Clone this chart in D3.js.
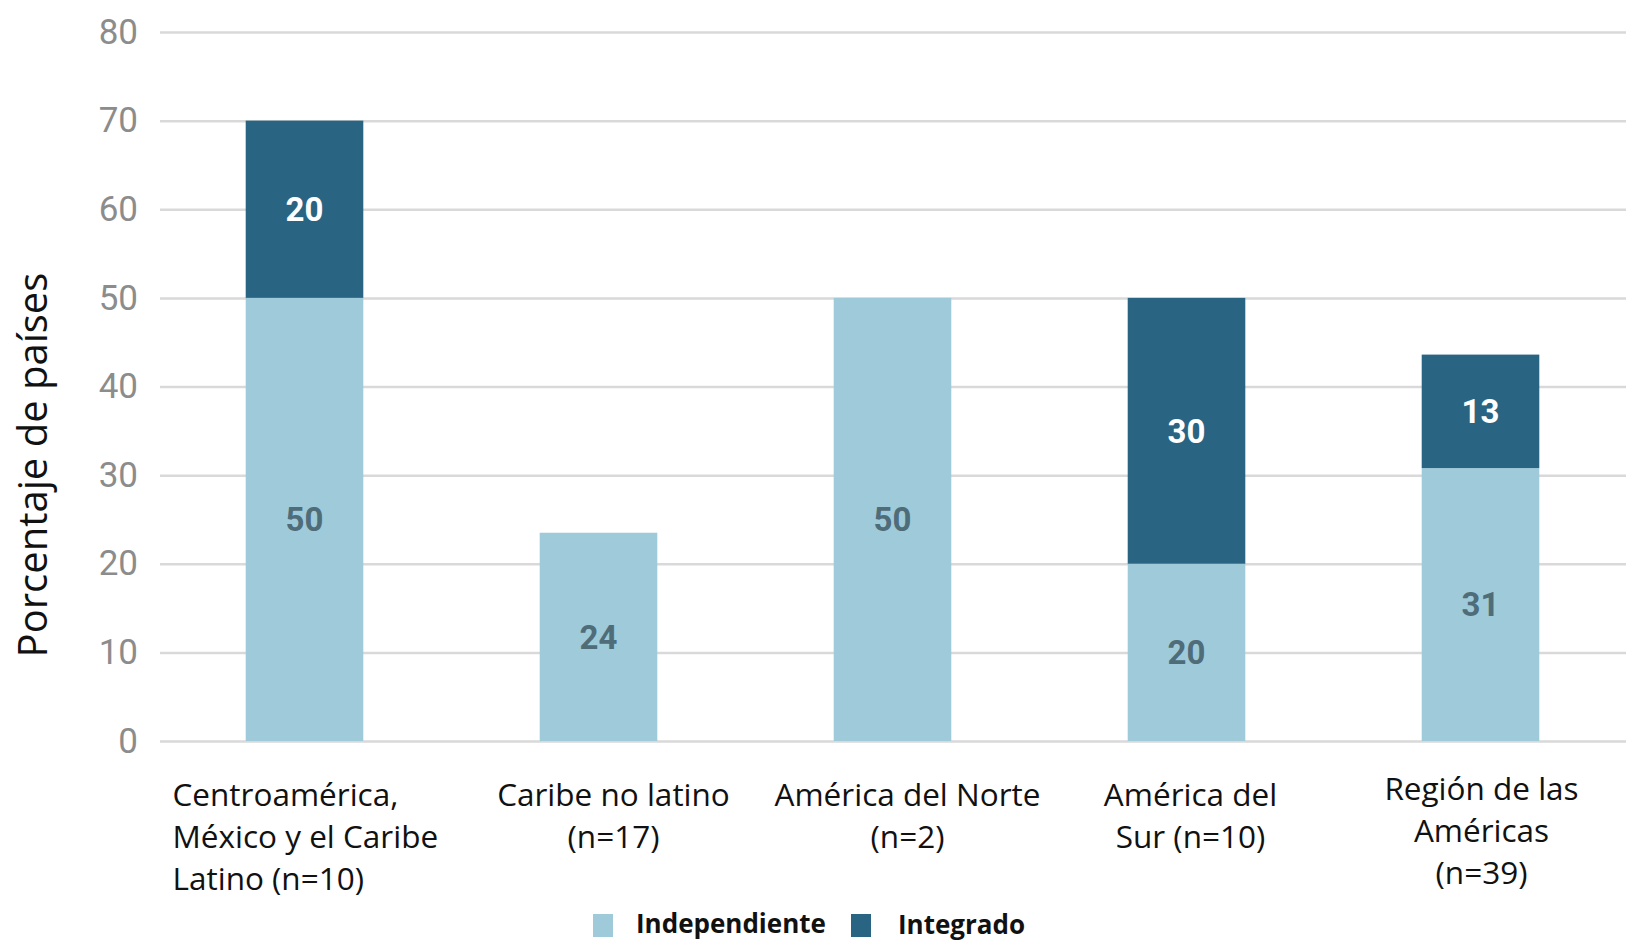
<!DOCTYPE html>
<html>
<head>
<meta charset="utf-8">
<script src="https://cdn.jsdelivr.net/npm/d3@7"></script>
<style>
  html, body { margin: 0; padding: 0; background: #fff; }
  svg { display: block; }
</style>
</head>
<body>
<div id="chart"></div>
<script>
// categories, one label line per entry
var categories = ["cam", "cnl", "an", "as", "ra"];
var categoryLines = [
    ["Centroamérica,", "México y el Caribe", "Latino (n=10)"],
    ["Caribe no latino", "(n=17)"],
    ["América del Norte", "(n=2)"],
    ["América del", "Sur (n=10)"],
    ["Región de las", "Américas", "(n=39)"]
];
var independiente = [50, 23.5, 50, 20, 30.8];
var integrado     = [20, 0, 0, 30, 12.8];
var seriesNames = ["Independiente", "Integrado"];
var yTicks = [0, 10, 20, 30, 40, 50, 60, 70, 80];

// layout
var W = 1628, H = 943;
var colors = { Independiente: "#9ecad9", Integrado: "#296582" };
var labelColors = { Independiente: "#4f6c79", Integrado: "#ffffff" };
var catAlign = ["start", "middle", "middle", "middle", "middle"];
var catDx = [-132, 15, 15, 4, 1];
var catDy = [0, 0, 0, 0, -6];

var svg = d3.select("#chart").append("svg")
    .attr("width", W)
    .attr("height", H);

var x = d3.scaleBand()
    .domain(categories)
    .range([157.5, 1627.5])
    .paddingInner(0.6)
    .paddingOuter(0.3);

var y = d3.scaleLinear()
    .domain([0, 80])
    .range([741, 32]);

// gridlines + tick labels
var yAxis = d3.axisLeft(y)
    .tickValues(yTicks)
    .tickSize(-(1626 - 160))
    .tickPadding(22);

var gy = svg.append("g")
    .attr("transform", "translate(160,0)")
    .call(yAxis);
gy.select(".domain").remove();
gy.selectAll(".tick line")
    .attr("stroke", "#d9d9d9")
    .attr("stroke-width", 2.5);
gy.selectAll(".tick text")
    .attr("fill", "#8c8c8c")
    .style("font-family", "'Liberation Sans Narrow', 'Arial Narrow', Roboto, sans-serif")
    .style("font-size", "35px");

// stacked data
var rows = categories.map(function (c, i) {
    return { cat: c, Independiente: independiente[i], Integrado: integrado[i] };
});
var stack = d3.stack().keys(seriesNames);
var layers = stack(rows);

var gl = svg.selectAll("g.layer")
    .data(layers)
    .enter()
    .append("g")
    .attr("class", "layer")
    .attr("fill", function (d) { return colors[d.key]; });

gl.selectAll("rect")
    .data(function (d) { return d; })
    .enter()
    .append("rect")
    .attr("x", function (d) { return x(d.data.cat); })
    .attr("width", x.bandwidth())
    .attr("y", function (d) { return y(d[1]); })
    .attr("height", function (d) { return y(d[0]) - y(d[1]); });

// value labels
layers.forEach(function (layer) {
    svg.append("g").selectAll("text")
        .data(layer.filter(function (d) { return d[1] - d[0] > 0; }))
        .enter()
        .append("text")
        .attr("x", function (d) { return x(d.data.cat) + x.bandwidth() / 2; })
        .attr("y", function (d) { return (y(d[0]) + y(d[1])) / 2; })
        .attr("dy", "0.36em")
        .attr("text-anchor", "middle")
        .attr("fill", labelColors[layer.key])
        .style("font-family", "'Liberation Sans Narrow', 'Arial Narrow', Roboto, sans-serif")
        .style("font-weight", "bold")
        .style("font-size", "33px")
        .text(function (d) { return Math.round(d[1] - d[0]); });
});

// category labels
categories.forEach(function (c, i) {
    var cx = x(c) + x.bandwidth() / 2 + catDx[i];
    var t = svg.append("text")
        .attr("x", cx)
        .attr("y", 806 + catDy[i])
        .attr("text-anchor", catAlign[i])
        .attr("fill", "#111")
        .style("font-family", "'Open Sans', 'Noto Sans', sans-serif")
        .style("font-size", "31.5px");
    categoryLines[i].forEach(function (line, j) {
        t.append("tspan")
            .attr("x", cx)
            .attr("dy", j === 0 ? 0 : 42)
            .text(line);
    });
});

// y axis title
svg.append("text")
    .attr("transform", "translate(47,465) rotate(-90)")
    .attr("text-anchor", "middle")
    .attr("fill", "#111")
    .style("font-family", "'Open Sans', 'Noto Sans', sans-serif")
    .style("font-size", "40px")
    .text("Porcentaje de países");

// legend
var legendX = [593, 851];
var legend = svg.selectAll("g.legend")
    .data(seriesNames)
    .enter()
    .append("g")
    .attr("class", "legend")
    .attr("transform", function (d, i) { return "translate(" + legendX[i] + ",914)"; });
legend.append("rect")
    .attr("width", 20)
    .attr("height", 23)
    .attr("fill", function (d) { return colors[d]; });
legend.append("text")
    .attr("x", function (d, i) { return i === 0 ? 43 : 47; })
    .attr("y", function (d, i) { return i === 0 ? 19 : 20; })
    .attr("fill", "#111")
    .style("font-family", "'Open Sans', 'Noto Sans', sans-serif")
    .style("font-weight", "bold")
    .style("font-size", "26px")
    .text(function (d) { return d; });
</script>
</body>
</html>
